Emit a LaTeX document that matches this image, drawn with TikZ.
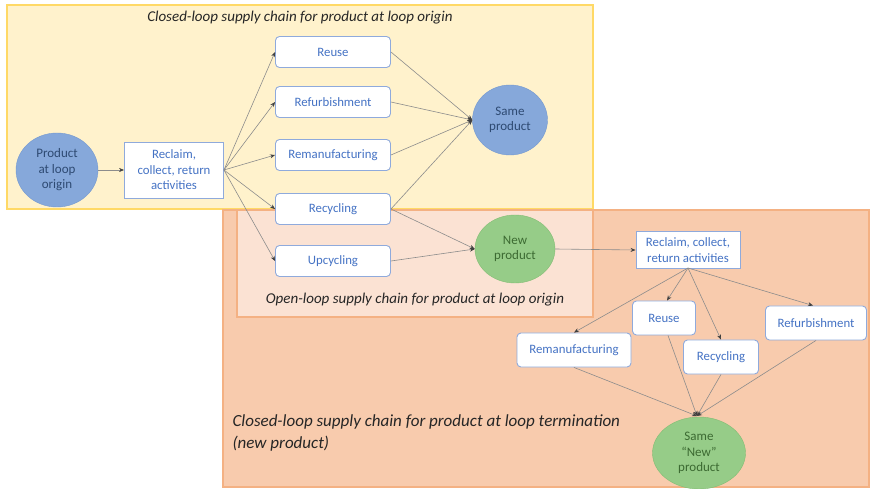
\documentclass[tikz,border=0pt]{standalone}
\usepackage{fontspec}
\setmainfont{Carlito}
\usetikzlibrary{shapes.geometric,arrows.meta}

\definecolor{loopyellow}{HTML}{FFF2CC}
\definecolor{loopyellowedge}{HTML}{FFD966}
\definecolor{looporange}{HTML}{F8CBAD}
\definecolor{looporangeedge}{HTML}{F4B183}
\definecolor{openfill}{HTML}{FBE2D3}
\definecolor{boxedge}{HTML}{8FAADC}
\definecolor{boxtext}{HTML}{4472C4}
\definecolor{bluefill}{HTML}{86A8DA}
\definecolor{blueedge}{HTML}{7499D0}
\definecolor{bluetext}{HTML}{2E4A72}
\definecolor{greenfill}{HTML}{96CC88}
\definecolor{greenedge}{HTML}{82BD74}
\definecolor{greentext}{HTML}{3C6A32}
\definecolor{flowgray}{HTML}{8C8C8C}

\tikzset{
  region/.style={line width=1.2pt},
  stepbox/.style={draw=boxedge, fill=white, line width=0.9pt, rounded corners=4pt,
    minimum width=115pt, minimum height=31pt, inner sep=0pt, text=boxtext,
    font=\fontsize{12.8}{14}\selectfont},
  gatherbox/.style={draw=boxedge, fill=white, line width=0.9pt, inner sep=0pt,
    text=boxtext, align=center, font=\fontsize{12.8}{15.5}\selectfont},
  origin/.style={ellipse, draw=blueedge, fill=bluefill, inner sep=0pt, text=bluetext,
    align=center, font=\fontsize{13}{15.5}\selectfont},
  newprod/.style={ellipse, draw=greenedge, fill=greenfill, inner sep=0pt, text=greentext,
    align=center, font=\fontsize{13}{15.5}\selectfont},
  flow/.style={draw=flowgray, line width=0.6pt,
    -{Stealth[length=5pt,width=4pt,color=black!75]}},
  caption/.style={font=\fontsize{15}{18}\selectfont\itshape, text=black!85},
}

\begin{document}
\begin{tikzpicture}[x=1pt,y=-1pt]
\useasboundingbox (0,0) rectangle (871,489);

% background regions
\draw[region, draw=loopyellowedge, fill=loopyellow] (7,5) rectangle (593,209);
\draw[region, draw=looporangeedge, fill=looporange] (223,210) rectangle (869,487);
\draw[region, draw=looporangeedge, fill=openfill] (237,210) rectangle (593,317);

% region captions
\node[caption] (capclosed) at (300,18) {Closed-loop supply chain for product at loop origin};
\node[caption] (capopen) at (415,300) {Open-loop supply chain for product at loop origin};
\node[caption, anchor=north west, align=left, font=\fontsize{17}{22}\selectfont\itshape]
  (capterm) at (229,411) {Closed-loop supply chain for product at loop termination\\(new product)};

% loop origin chain
\node[origin, minimum width=82pt, minimum height=74pt] (prod) at (57,170) {Product\\at loop\\origin};
\node[gatherbox, minimum width=99pt, minimum height=56pt] (reclaim) at (174,170) {Reclaim,\\collect, return\\activities};

\node[stepbox] (reuse) at (333,52) {Reuse};
\node[stepbox] (refurb) at (333,102) {Refurbishment};
\node[stepbox] (reman) at (333,155) {Remanufacturing};
\node[stepbox] (recyc) at (333,209) {Recycling};
\node[stepbox] (upcyc) at (333,261) {Upcycling};

\node[origin, minimum width=75pt, minimum height=70pt] (same) at (510,120) {Same\\product};
\node[newprod, minimum width=80pt, minimum height=68pt] (newp) at (515,249) {New\\product};

\draw[flow] (prod) -- (reclaim);
\foreach \t in {reuse,refurb,reman,recyc,upcyc}
  \draw[flow] (reclaim.east) -- (\t.west);
\foreach \s in {reuse,refurb,reman,recyc}
  \draw[flow] (\s.east) -- (same.west);
\draw[flow] (recyc.east) -- (newp.west);
\draw[flow] (upcyc.east) -- (newp.west);

% loop termination chain
\node[gatherbox, minimum width=104pt, minimum height=37pt] (reclaimb) at (688,250) {Reclaim, collect,\\return activities};
\node[stepbox, minimum width=63pt, minimum height=34pt] (reuseb) at (664,318) {Reuse};
\node[stepbox, minimum width=101pt, minimum height=34pt] (refurbb) at (816,323) {Refurbishment};
\node[stepbox, minimum width=114pt, minimum height=34pt] (remanb) at (574,350) {Remanufacturing};
\node[stepbox, minimum width=75pt, minimum height=34pt] (recycb) at (721,357) {Recycling};
\node[newprod, minimum width=93pt, minimum height=72pt] (samenew) at (699,453) {Same\\“New”\\product};

\draw[flow] (newp.east) -- (reclaimb.west);
\coordinate (fan) at (688,268);
\draw[flow] (fan) -- (remanb.north);
\draw[flow] (fan) -- ([xshift=3pt]reuseb.north);
\draw[flow] (fan) -- (recycb.north);
\draw[flow] (fan) -- ([xshift=-3pt]refurbb.north);
\coordinate (meet) at (697,416);
\draw[flow] (remanb.south) -- (meet);
\draw[flow] ([xshift=4pt]reuseb.south) -- (meet);
\draw[flow] (recycb.south) -- (meet);
\draw[flow] (refurbb.south) -- (meet);
\end{tikzpicture}
\end{document}
